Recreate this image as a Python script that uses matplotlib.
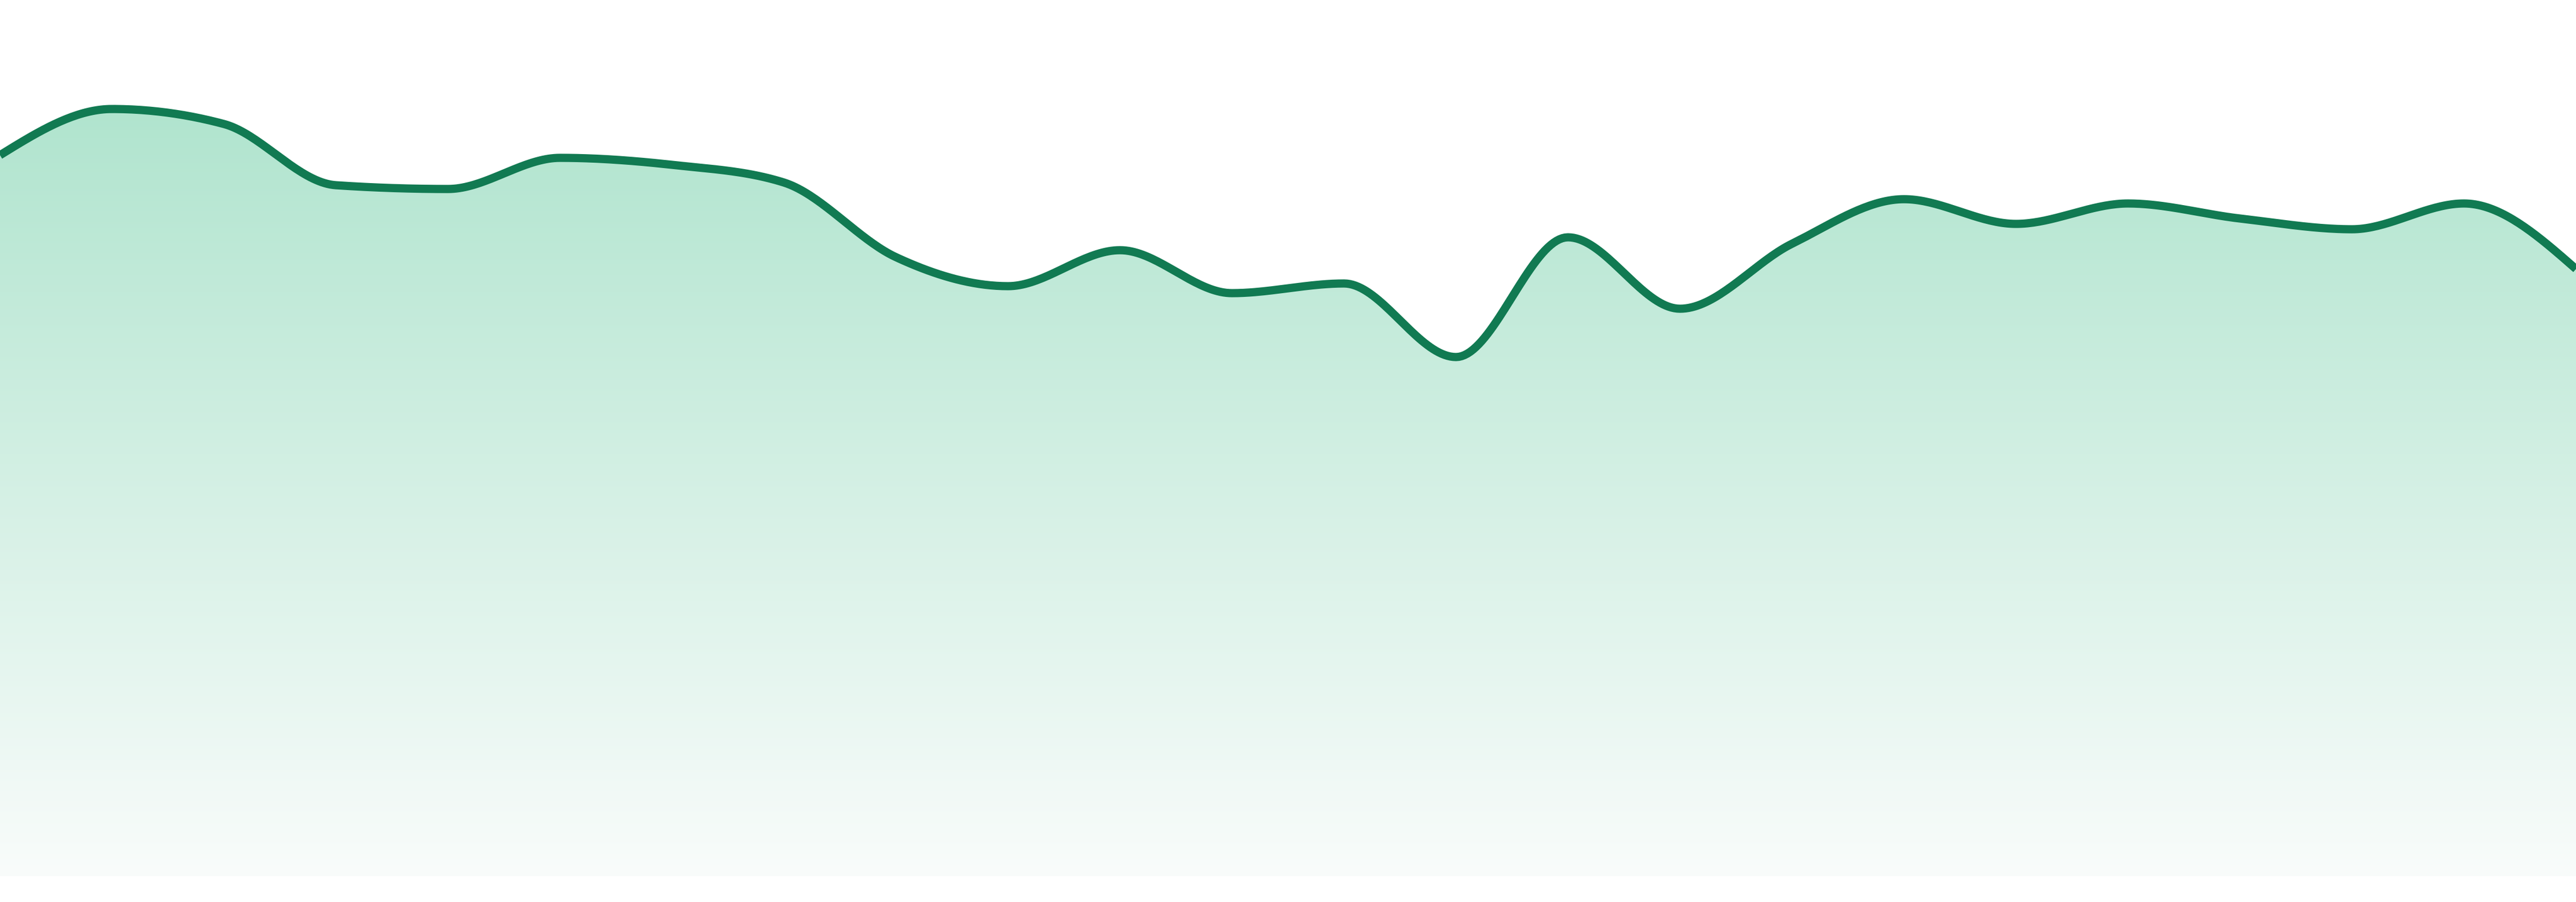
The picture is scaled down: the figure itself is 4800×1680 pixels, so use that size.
import numpy as np
import matplotlib
matplotlib.use("Agg")
import matplotlib.pyplot as plt
from matplotlib.patches import Polygon

# 24 points régulièrement espacés
points = list(range(24))
values = [134.3, 142.9, 140.1, 128.7, 128.0, 133.8, 132.5, 129.2,
          115.3, 109.9, 116.6, 108.6, 110.4, 96.7, 119.0, 105.7,
          117.8, 126.1, 121.5, 125.3, 122.5, 120.5, 125.3, 113.1]

line_color = "#117a52"
top_color = (166, 225, 200)
bottom_color = (249, 252, 251)
y_top = 163.2


def monotone_x(x, y, n=40):
    # même principe que curveMonotoneX de d3
    x = np.asarray(x, float)
    y = np.asarray(y, float)
    h = np.diff(x)
    s = np.diff(y) / h
    t = np.zeros_like(y)
    for i in range(1, len(y) - 1):
        s0, s1 = s[i - 1], s[i]
        p = (s0 * h[i] + s1 * h[i - 1]) / (h[i - 1] + h[i])
        t[i] = (np.sign(s0) + np.sign(s1)) * min(abs(s0), abs(s1), 0.5 * abs(p))
    t[0] = (3 * s[0] - t[1]) / 2
    t[-1] = (3 * s[-1] - t[-2]) / 2
    xs, ys = [], []
    u = np.linspace(0, 1, n)
    for i in range(len(x) - 1):
        dx = h[i] / 3
        p0 = (x[i], y[i])
        p1 = (x[i] + dx, y[i] + dx * t[i])
        p2 = (x[i + 1] - dx, y[i + 1] - dx * t[i + 1])
        p3 = (x[i + 1], y[i + 1])
        bx = (1 - u) ** 3 * p0[0] + 3 * (1 - u) ** 2 * u * p1[0] + 3 * (1 - u) * u ** 2 * p2[0] + u ** 3 * p3[0]
        by = (1 - u) ** 3 * p0[1] + 3 * (1 - u) ** 2 * u * p1[1] + 3 * (1 - u) * u ** 2 * p2[1] + u ** 3 * p3[1]
        start = 0 if i == 0 else 1
        xs.extend(bx[start:])
        ys.extend(by[start:])
    return np.array(xs), np.array(ys)


fig = plt.figure(figsize=(48, 16.8), dpi=100)
ax = fig.add_axes([0, 0, 1, 1])

xs, ys = monotone_x(points, values)

# zone sous la courbe, remplie par un dégradé vertical
verts = list(zip(xs, ys)) + [(points[-1], 0), (points[0], 0)]
zone = Polygon(verts, closed=True, facecolor="none", edgecolor="none")
ax.add_patch(zone)

k = np.linspace(0, 1, 600)[:, None]
grad = (np.array(top_color)[None, :] * (1 - k) + np.array(bottom_color)[None, :] * k) / 255
grad = grad[:, None, :]
im = ax.imshow(grad, extent=[points[0], points[-1], 0, y_top], aspect="auto",
               origin="upper", interpolation="bilinear")
im.set_clip_path(zone)

ax.plot(xs, ys, color=line_color, lw=11, solid_capstyle="butt", solid_joinstyle="round")

ax.set_xlim(points[0], points[-1])
ax.set_ylim(-4.8, y_top)
ax.axis("off")

fig.savefig("out.png", dpi=100, facecolor="white")
